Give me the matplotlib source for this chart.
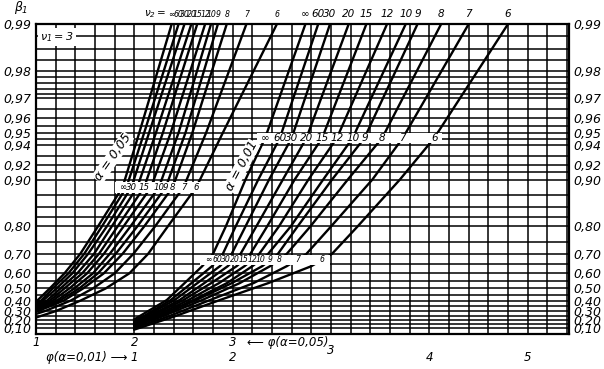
import numpy as np
import matplotlib
matplotlib.use('Agg')
import matplotlib.pyplot as plt
from matplotlib.patches import Rectangle
from matplotlib.transforms import blended_transform_factory

plt.rcParams['font.family'] = ['Liberation Sans Narrow', 'DejaVu Sans']
plt.rcParams['font.style'] = 'italic'
plt.rcParams['mathtext.fontset'] = 'dejavusans'

nu2_labels = ['∞', '60', '30', '20', '15', '12', '10', '9', '8', '7', '6']

# alpha = 0,05 family: phi on the alpha=0,05 scale and power beta
phi_05 = [
    [1.00, 1.14, 1.29, 1.45, 1.63, 1.88, 2.05, 2.38],
    [1.00, 1.05, 1.17, 1.33, 1.49, 1.67, 1.92, 2.10, 2.45],
    [1.00, 1.07, 1.21, 1.37, 1.53, 1.72, 1.97, 2.15, 2.51],
    [1.00, 1.11, 1.25, 1.42, 1.59, 1.77, 2.03, 2.22, 2.58],
    [1.00, 1.14, 1.29, 1.47, 1.64, 1.83, 2.10, 2.29, 2.64],
    [1.00, 1.17, 1.34, 1.52, 1.69, 1.89, 2.17, 2.37, 2.72],
    [1.00, 1.21, 1.39, 1.58, 1.75, 1.96, 2.25, 2.45, 2.78],
    [1.00, 1.24, 1.44, 1.63, 1.81, 2.03, 2.32, 2.52, 2.85],
    [1.00, 1.02, 1.28, 1.48, 1.69, 1.88, 2.10, 2.39, 2.59, 2.94],
    [1.00, 1.09, 1.35, 1.58, 1.80, 1.99, 2.21, 2.50, 2.73, 3.14],
    [1.00, 1.20, 1.45, 1.71, 1.95, 2.14, 2.34, 2.63, 2.90, 3.45],
]
beta_05 = [
    [0.390, 0.50, 0.60, 0.70, 0.80, 0.888, 0.95, 0.99],
    [0.380, 0.40, 0.50, 0.60, 0.70, 0.80, 0.888, 0.95, 0.99],
    [0.370, 0.40, 0.50, 0.60, 0.70, 0.80, 0.888, 0.95, 0.99],
    [0.360, 0.40, 0.50, 0.60, 0.70, 0.80, 0.888, 0.95, 0.99],
    [0.350, 0.40, 0.50, 0.60, 0.70, 0.80, 0.888, 0.95, 0.99],
    [0.335, 0.40, 0.50, 0.60, 0.70, 0.80, 0.888, 0.95, 0.99],
    [0.320, 0.40, 0.50, 0.60, 0.70, 0.80, 0.888, 0.95, 0.99],
    [0.310, 0.40, 0.50, 0.60, 0.70, 0.80, 0.888, 0.95, 0.99],
    [0.295, 0.30, 0.40, 0.50, 0.60, 0.70, 0.80, 0.888, 0.95, 0.99],
    [0.270, 0.30, 0.40, 0.50, 0.60, 0.70, 0.80, 0.888, 0.95, 0.99],
    [0.230, 0.30, 0.40, 0.50, 0.60, 0.70, 0.80, 0.888, 0.95, 0.99],
]

# alpha = 0,01 family: phi on the alpha=0,01 scale and power beta
phi_01 = [
    [1.00, 1.33, 1.51, 1.69, 1.80, 1.93, 2.13, 2.33, 2.74],
    [1.00, 1.08, 1.37, 1.58, 1.79, 1.90, 2.03, 2.26, 2.48, 2.87],
    [1.00, 1.10, 1.41, 1.64, 1.87, 1.99, 2.13, 2.37, 2.60, 2.99],
    [1.00, 1.13, 1.46, 1.71, 1.95, 2.08, 2.24, 2.51, 2.75, 3.18],
    [1.00, 1.16, 1.50, 1.78, 2.04, 2.18, 2.35, 2.63, 2.91, 3.36],
    [1.00, 1.19, 1.55, 1.86, 2.12, 2.27, 2.47, 2.77, 3.06, 3.57],
    [1.00, 1.22, 1.60, 1.94, 2.20, 2.36, 2.59, 2.92, 3.22, 3.76],
    [1.00, 1.24, 1.63, 1.99, 2.30, 2.46, 2.66, 3.01, 3.34, 3.88],
    [1.00, 1.27, 1.69, 2.07, 2.38, 2.55, 2.79, 3.17, 3.52, 4.12],
    [1.00, 1.33, 1.77, 2.21, 2.55, 2.75, 3.00, 3.42, 3.73, 4.40],
    [1.00, 1.39, 1.87, 2.36, 2.80, 3.01, 3.27, 3.70, 4.05, 4.80],
]
beta_01 = [
    [0.210, 0.406, 0.537, 0.64, 0.70, 0.80, 0.90, 0.946, 0.99],
    [0.200, 0.236, 0.406, 0.537, 0.64, 0.70, 0.80, 0.90, 0.946, 0.99],
    [0.190, 0.236, 0.406, 0.537, 0.64, 0.70, 0.80, 0.90, 0.946, 0.99],
    [0.180, 0.236, 0.406, 0.537, 0.64, 0.70, 0.80, 0.90, 0.946, 0.99],
    [0.170, 0.236, 0.406, 0.537, 0.64, 0.70, 0.80, 0.90, 0.946, 0.99],
    [0.157, 0.236, 0.406, 0.537, 0.64, 0.70, 0.80, 0.90, 0.946, 0.99],
    [0.145, 0.236, 0.406, 0.537, 0.64, 0.70, 0.80, 0.90, 0.946, 0.99],
    [0.137, 0.236, 0.406, 0.537, 0.64, 0.70, 0.80, 0.90, 0.946, 0.99],
    [0.124, 0.236, 0.406, 0.537, 0.64, 0.70, 0.80, 0.90, 0.946, 0.99],
    [0.103, 0.236, 0.406, 0.537, 0.64, 0.70, 0.80, 0.90, 0.946, 0.99],
    [0.080, 0.236, 0.406, 0.537, 0.64, 0.70, 0.80, 0.90, 0.946, 0.99],
]

beta_ticks = [0.99, 0.98, 0.97, 0.96, 0.95, 0.94, 0.92, 0.90,
              0.80, 0.70, 0.60, 0.50, 0.40, 0.30, 0.20, 0.10]
beta_tick_labels = ['0,99', '0,98', '0,97', '0,96', '0,95', '0,94', '0,92', '0,90',
                    '0,80', '0,70', '0,60', '0,50', '0,40', '0,30', '0,20', '0,10']
grid_beta = [0.99, 0.988, 0.9855, 0.983, 0.98, 0.978, 0.976, 0.974, 0.972, 0.97,
             0.965, 0.96, 0.955, 0.95, 0.945, 0.94, 0.93, 0.92, 0.91, 0.90,
             0.875, 0.85, 0.825, 0.80, 0.75, 0.70, 0.65, 0.60, 0.55, 0.50,
             0.45, 0.40, 0.35, 0.30, 0.25, 0.20, 0.15, 0.10]
phi_grid = np.arange(1.0, 6.41, 0.2)


def fwd(b):
    return -np.log10(1 - np.clip(b, None, 0.999999))


def inv(t):
    return 1 - 10 ** (-np.asarray(t))


fig = plt.figure(figsize=(6.04, 3.69), dpi=100)
ax = fig.add_axes([36 / 604, 1 - 334 / 369, 533 / 604, 310 / 369])
ax.set_yscale('function', functions=(fwd, inv))
ax.set_xlim(1.0, 6.42)
ax.set_ylim(0.018, 0.99)

for b in grid_beta:
    ax.axhline(b, color='black', lw=1.1, zorder=1)
for v in phi_grid:
    ax.axvline(v, color='black', lw=1.1, zorder=1)

for p, b in zip(phi_05, beta_05):
    ax.plot(p, b, color='black', lw=1.7, zorder=2)
for p, b in zip(phi_01, beta_01):
    ax.plot(np.array(p) + 1, b, color='black', lw=1.7, zorder=2)

for s in ax.spines.values():
    s.set_linewidth(1.6)

ax.set_xticks([])
ax.set_yticks(beta_ticks)
ax.set_yticklabels(beta_tick_labels)
ax.yaxis.set_minor_locator(matplotlib.ticker.NullLocator())
ax.tick_params(axis='y', length=0, labelright=True, pad=3, labelsize=9)


def label_box(xs, texts, level, fs=7.0):
    t = fwd(level)
    lo, hi = inv(t - 0.034), inv(t + 0.034)
    x0, x1 = min(xs) - 0.08, max(xs) + 0.08
    ax.add_patch(Rectangle((x0, lo), x1 - x0, hi - lo, facecolor='white',
                           edgecolor='none', zorder=3))
    for x, s in zip(xs, texts):
        ax.text(x, level, s, ha='center', va='center', fontsize=fs, zorder=4)


# curve labels inside the chart
idx = [0, 2, 4, 6, 7, 8, 9, 10]
label_box([np.interp(0.888, beta_05[i], phi_05[i]) for i in idx],
          [nu2_labels[i] for i in idx], 0.888, fs=6.2)
label_box([np.interp(0.946, b, p) + 1 for p, b in zip(phi_01, beta_01)],
          nu2_labels, 0.946, fs=7.5)
label_box([np.interp(0.672, b, p) + 1 for p, b in zip(phi_01, beta_01)],
          nu2_labels, 0.672, fs=5.6)

# labels above the frame
top = blended_transform_factory(ax.transData, ax.transAxes)
for p, s in zip(phi_05, nu2_labels):
    ax.text(p[-1], 1.032, s, transform=top, ha='center', va='center', fontsize=5.6)
for p, s in zip(phi_01, nu2_labels):
    ax.text(p[-1] + 1, 1.032, s, transform=top, ha='center', va='center', fontsize=7.5)
ax.text(phi_05[0][-1] - 0.05, 1.032, r'$\nu_2 =$', transform=top,
        ha='right', va='center', fontsize=7.5)

ax.text(-0.028, 1.052, r'$\beta_1$', transform=ax.transAxes,
        ha='center', va='center', fontsize=9)
ax.text(1.21, 0.9879, r'$\nu_1 = 3$', ha='center', va='center', fontsize=8,
        zorder=4, bbox=dict(facecolor='white', edgecolor='none', pad=1.5))

ax.text(1.78, 0.928, 'α = 0,05', rotation=55, ha='center', va='center',
        fontsize=9, zorder=4, bbox=dict(facecolor='white', edgecolor='none', pad=0.3))
ax.text(3.09, 0.918, 'α = 0,01', rotation=62, ha='center', va='center',
        fontsize=9, zorder=4, bbox=dict(facecolor='white', edgecolor='none', pad=0.3))

# phi scales below the frame
phi_scale_05 = [1, 2, 3]
phi_scale_01 = [1, 2, 3, 4, 5]
row1, row2 = -0.028, -0.076
for v in phi_scale_05:
    ax.text(v, row1, str(v), transform=top, ha='center', va='center', fontsize=8.5)
for v in phi_scale_01:
    ax.text(v + 1, row2 + (0.022 if v == 3 else 0), str(v), transform=top,
            ha='center', va='center', fontsize=8.5)
ax.text(3.15, row1, '⟵ φ(α=0,05)', transform=top, ha='left', va='center', fontsize=8.5)
ax.text(1.93, row2, 'φ(α=0,01) ⟶', transform=top, ha='right', va='center', fontsize=8.5)

fig.savefig('out.png', dpi=100)
